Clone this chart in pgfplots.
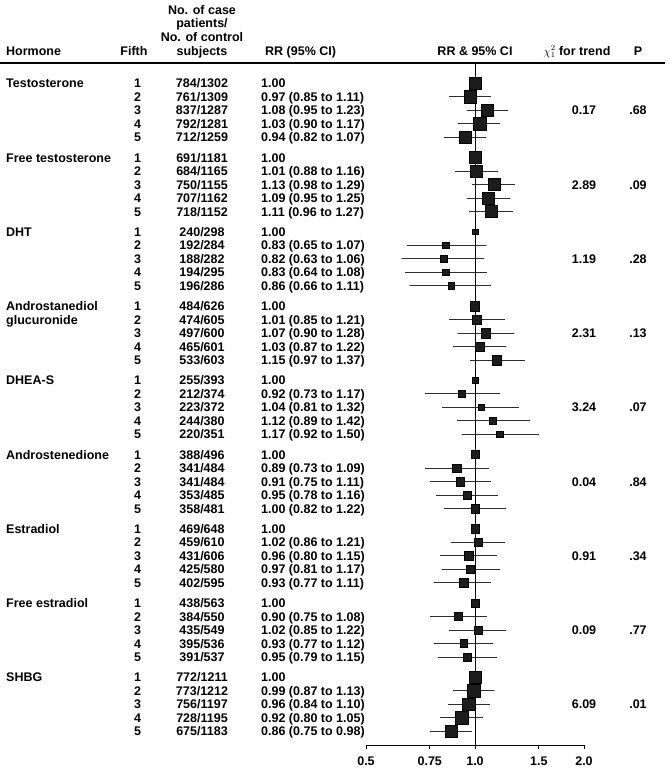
\documentclass[border=0pt]{standalone}
\usepackage{fontspec}
\setmainfont{Liberation Sans}
\usepackage{pgfplots}
\pgfplotsset{compat=1.18}
\usepackage{pgfplotstable}
\definecolor{sq}{HTML}{1C1C1C}
\definecolor{ci}{HTML}{2E2E2E}
\newcommand\tf{\fontsize{12.5bp}{15bp}\selectfont\bfseries}

\pgfplotstableread{
g r rr lo hi s
0 0 1.00 1.00 1.00 6.3
0 1 0.97 0.85 1.11 6.3
0 2 1.08 0.95 1.23 6.3
0 3 1.03 0.90 1.17 6.3
0 4 0.94 0.82 1.07 6.3
1 0 1.00 1.00 1.00 6.0
1 1 1.01 0.88 1.16 6.0
1 2 1.13 0.98 1.29 6.0
1 3 1.09 0.95 1.25 6.0
1 4 1.11 0.96 1.27 6.0
2 0 1.00 1.00 1.00 2.9
2 1 0.83 0.65 1.07 3.2
2 2 0.82 0.63 1.06 3.2
2 3 0.83 0.64 1.08 3.2
2 4 0.86 0.66 1.11 3.2
3 0 1.00 1.00 1.00 4.7
3 1 1.01 0.85 1.21 4.7
3 2 1.07 0.90 1.28 4.7
3 3 1.03 0.87 1.22 4.7
3 4 1.15 0.97 1.37 4.7
4 0 1.00 1.00 1.00 3.3
4 1 0.92 0.73 1.17 3.3
4 2 1.04 0.81 1.32 3.3
4 3 1.12 0.89 1.42 3.3
4 4 1.17 0.92 1.50 3.2
5 0 1.00 1.00 1.00 4.0
5 1 0.89 0.73 1.09 4.2
5 2 0.91 0.75 1.11 4.2
5 3 0.95 0.78 1.16 4.2
5 4 1.00 0.82 1.22 4.2
6 0 1.00 1.00 1.00 4.3
6 1 1.02 0.86 1.21 4.3
6 2 0.96 0.80 1.15 4.3
6 3 0.97 0.81 1.17 4.3
6 4 0.93 0.77 1.11 4.3
7 0 1.00 1.00 1.00 3.9
7 1 0.90 0.75 1.08 3.9
7 2 1.02 0.85 1.22 3.9
7 3 0.93 0.77 1.12 3.9
7 4 0.95 0.79 1.15 3.9
8 0 1.00 1.00 1.00 6.3
8 1 0.99 0.87 1.13 6.3
8 2 0.96 0.84 1.10 6.3
8 3 0.92 0.80 1.05 6.3
8 4 0.86 0.75 0.98 6.3
}\datatable

\newcommand\yb[2]{\pgfmathsetmacro\yy{-(83.3+74.25*#1+13.5*#2+4.5)}}
\newcommand\rowtxt[5]{\yb{#1}{#2}%
  \node[t,anchor=base] at (137.5bp,\yy bp) {#3};
  \node[t,anchor=base] at (202bp,\yy bp) {#4};
  \node[t,anchor=base west] at (261bp,\yy bp) {#5};}
\newcommand\grp[4]{\yb{#1}{0}%
  \node[t,anchor=base west] at (6bp,\yy bp) {#2};
  \yb{#1}{2}%
  \node[t,anchor=base] at (584bp,\yy bp) {#3};
  \node[t,anchor=base] at (638bp,\yy bp) {#4};}

\begin{document}
\begin{tikzpicture}[t/.style={inner sep=0pt,font=\tf}]
\useasboundingbox (0,0) rectangle (670bp,-771bp);
\begin{axis}[
  scale only axis, width=218bp, height=682bp,
  at={(366bp,-745bp)}, anchor=south west,
  xmode=log, xmin=0.5, xmax=2.0, ymin=-745, ymax=-63,
  axis x line=bottom, axis y line=none,
  x axis line style={-, line width=0.9pt, black},
  xtick={0.5,0.75,1,1.5,2}, xticklabels={0.5,0.75,1.0,1.5,2.0},
  minor xtick={},
  tick align=outside, major tick length=4bp,
  tick style={line width=0.9pt, black},
  xticklabel style={font=\tf, yshift=-4.5bp},
  clip=false,
]
\addplot[black, line width=0.9pt] coordinates {(1,-63) (1,-745)};
\addplot[
  scatter, only marks, mark=square*,
  point meta={\thisrow{s}},
  scatter/use mapped color={draw=none, fill=sq},
  visualization depends on={\thisrow{s} \as \msz},
  scatter/@pre marker code/.append style={/tikz/mark size=\msz},
  error bars/.cd, x dir=both, x explicit, error mark=none,
  error bar style={line width=0.8pt, color=ci},
] table[
  x=rr,
  y expr={-(83.3+74.25*\thisrow{g}+13.5*\thisrow{r})},
  x error plus expr={\thisrow{hi}-\thisrow{rr}},
  x error minus expr={\thisrow{rr}-\thisrow{lo}},
] {\datatable};
\end{axis}

% header
\node[t,anchor=base] at (202bp,-14bp) {No. of case};
\node[t,anchor=base] at (202bp,-27.7bp) {patients/};
\node[t,anchor=base] at (202bp,-41.4bp) {No. of control};
\node[t,anchor=base] at (202bp,-55bp) {subjects};
\node[t,anchor=base west] at (6bp,-55bp) {Hormone};
\node[t,anchor=base] at (134bp,-55bp) {Fifth};
\node[t,anchor=base west] at (265bp,-55bp) {RR (95\% CI)};
\node[t,anchor=base] at (475bp,-55bp) {RR \& 95\% CI};
\node[t,anchor=base] at (577bp,-55bp) {\large$\chi^{2}_{1}$\tf{} for trend};
\node[t,anchor=base] at (638bp,-55bp) {P};
\draw[line width=1.2pt] (0,-63bp) -- (665bp,-63bp);

\grp{0}{Testosterone}{0.17}{.68}
\rowtxt{0}{0}{1}{784/1302}{1.00}
\rowtxt{0}{1}{2}{761/1309}{0.97 (0.85 to 1.11)}
\rowtxt{0}{2}{3}{837/1287}{1.08 (0.95 to 1.23)}
\rowtxt{0}{3}{4}{792/1281}{1.03 (0.90 to 1.17)}
\rowtxt{0}{4}{5}{712/1259}{0.94 (0.82 to 1.07)}

\grp{1}{Free testosterone}{2.89}{.09}
\rowtxt{1}{0}{1}{691/1181}{1.00}
\rowtxt{1}{1}{2}{684/1165}{1.01 (0.88 to 1.16)}
\rowtxt{1}{2}{3}{750/1155}{1.13 (0.98 to 1.29)}
\rowtxt{1}{3}{4}{707/1162}{1.09 (0.95 to 1.25)}
\rowtxt{1}{4}{5}{718/1152}{1.11 (0.96 to 1.27)}

\grp{2}{DHT}{1.19}{.28}
\rowtxt{2}{0}{1}{240/298}{1.00}
\rowtxt{2}{1}{2}{192/284}{0.83 (0.65 to 1.07)}
\rowtxt{2}{2}{3}{188/282}{0.82 (0.63 to 1.06)}
\rowtxt{2}{3}{4}{194/295}{0.83 (0.64 to 1.08)}
\rowtxt{2}{4}{5}{196/286}{0.86 (0.66 to 1.11)}

\grp{3}{Androstanediol}{2.31}{.13}
\yb{3}{1}\node[t,anchor=base west] at (6bp,\yy bp) {glucuronide};
\rowtxt{3}{0}{1}{484/626}{1.00}
\rowtxt{3}{1}{2}{474/605}{1.01 (0.85 to 1.21)}
\rowtxt{3}{2}{3}{497/600}{1.07 (0.90 to 1.28)}
\rowtxt{3}{3}{4}{465/601}{1.03 (0.87 to 1.22)}
\rowtxt{3}{4}{5}{533/603}{1.15 (0.97 to 1.37)}

\grp{4}{DHEA-S}{3.24}{.07}
\rowtxt{4}{0}{1}{255/393}{1.00}
\rowtxt{4}{1}{2}{212/374}{0.92 (0.73 to 1.17)}
\rowtxt{4}{2}{3}{223/372}{1.04 (0.81 to 1.32)}
\rowtxt{4}{3}{4}{244/380}{1.12 (0.89 to 1.42)}
\rowtxt{4}{4}{5}{220/351}{1.17 (0.92 to 1.50)}

\grp{5}{Androstenedione}{0.04}{.84}
\rowtxt{5}{0}{1}{388/496}{1.00}
\rowtxt{5}{1}{2}{341/484}{0.89 (0.73 to 1.09)}
\rowtxt{5}{2}{3}{341/484}{0.91 (0.75 to 1.11)}
\rowtxt{5}{3}{4}{353/485}{0.95 (0.78 to 1.16)}
\rowtxt{5}{4}{5}{358/481}{1.00 (0.82 to 1.22)}

\grp{6}{Estradiol}{0.91}{.34}
\rowtxt{6}{0}{1}{469/648}{1.00}
\rowtxt{6}{1}{2}{459/610}{1.02 (0.86 to 1.21)}
\rowtxt{6}{2}{3}{431/606}{0.96 (0.80 to 1.15)}
\rowtxt{6}{3}{4}{425/580}{0.97 (0.81 to 1.17)}
\rowtxt{6}{4}{5}{402/595}{0.93 (0.77 to 1.11)}

\grp{7}{Free estradiol}{0.09}{.77}
\rowtxt{7}{0}{1}{438/563}{1.00}
\rowtxt{7}{1}{2}{384/550}{0.90 (0.75 to 1.08)}
\rowtxt{7}{2}{3}{435/549}{1.02 (0.85 to 1.22)}
\rowtxt{7}{3}{4}{395/536}{0.93 (0.77 to 1.12)}
\rowtxt{7}{4}{5}{391/537}{0.95 (0.79 to 1.15)}

\grp{8}{SHBG}{6.09}{.01}
\rowtxt{8}{0}{1}{772/1211}{1.00}
\rowtxt{8}{1}{2}{773/1212}{0.99 (0.87 to 1.13)}
\rowtxt{8}{2}{3}{756/1197}{0.96 (0.84 to 1.10)}
\rowtxt{8}{3}{4}{728/1195}{0.92 (0.80 to 1.05)}
\rowtxt{8}{4}{5}{675/1183}{0.86 (0.75 to 0.98)}
\end{tikzpicture}
\end{document}
